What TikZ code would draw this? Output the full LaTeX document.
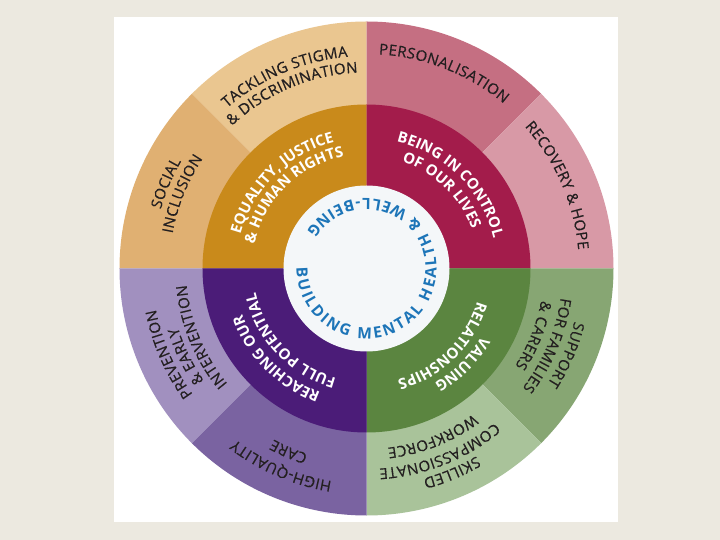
\documentclass[tikz,border=0pt]{standalone}
\usepackage{fontspec}
\setmainfont{Open Sans}
\newfontfamily\ringface[FakeBold=0.5]{Open Sans}
\newfontfamily\coreface{Open Sans}
\newfontfamily\hubface{Open Sans}
\usetikzlibrary{decorations.text}
\definecolor{paper}{HTML}{ECE9E0}
\definecolor{tackle}{HTML}{EAC690}
\definecolor{inclu}{HTML}{E0B072}
\definecolor{equal}{HTML}{C98A1B}
\definecolor{person}{HTML}{C56F82}
\definecolor{recov}{HTML}{D899A6}
\definecolor{control}{HTML}{A31C4B}
\definecolor{famil}{HTML}{87A673}
\definecolor{skill}{HTML}{A9C39A}
\definecolor{valu}{HTML}{5B8540}
\definecolor{prevent}{HTML}{A190BF}
\definecolor{care}{HTML}{7A63A1}
\definecolor{reach}{HTML}{4B1C78}
\definecolor{hub}{HTML}{F4F7F9}
\definecolor{ink}{HTML}{231F20}
\definecolor{hubink}{HTML}{1D75B8}
\newcommand{\ringfont}{\ringface\fontsize{15}{15}\selectfont\kern0.3pt}
\newcommand{\corefont}{\coreface\bfseries\fontsize{15}{15}\selectfont}
\newcommand{\hubfont}{\hubface\bfseries\fontsize{15.5}{15.5}\selectfont\kern2.3pt}

\begin{document}
\begin{tikzpicture}[x=1pt,y=1pt]
	\tikzset{outerlbl/.style={decorate,decoration={text along path,text align=center,text color=ink,text={|\ringfont|#1}}}}
	\tikzset{innerlbl/.style={decorate,decoration={text along path,text align=center,text color=white,text={|\corefont|#1}}}}
	\tikzset{hublbl/.style={decorate,decoration={text along path,text align=center,text color=hubink,text={|\hubfont|#1}}}}
	\useasboundingbox (-366.5,-271.5) rectangle (353.5,268.5);
	\fill[paper] (-366.5,-271.5) rectangle (353.5,268.5);
	\fill[white] (-252.5,-253.5) rectangle (251.5,251.2);
	\foreach \a/\b/\col in {90/135/tackle,135/180/inclu,45/90/person,0/45/recov,-45/0/famil,-90/-45/skill,-135/-90/care,-180/-135/prevent}
		\fill[\col] (0,0) -- (\a:247pt) arc[start angle=\a,end angle=\b,radius=247pt] -- cycle;
	\foreach \a/\col in {90/equal,0/control,-90/valu,180/reach}
		\fill[\col] (0,0) -- (\a:164pt) arc[start angle=\a,delta angle=90,radius=164pt] -- cycle;
	\fill[hub] (0,0) circle[radius=83pt];
	\path[outerlbl={TACKLING STIGMA}] (173.05:212.5pt) arc[start angle=173.05,delta angle=-120,radius=212.5pt];
	\path[outerlbl={{\&} DISCRIMINATION}] (173:196pt) arc[start angle=173,delta angle=-120,radius=196pt];
	\path[outerlbl={SOCIAL}] (217:214pt) arc[start angle=217,delta angle=-120,radius=214pt];
	\path[outerlbl={INCLUSION}] (218:197pt) arc[start angle=218,delta angle=-120,radius=197pt];
	\path[outerlbl={PERSONALISATION}] (128.5:214.5pt) arc[start angle=128.5,delta angle=-120,radius=214.5pt];
	\path[outerlbl={RECOVERY {\&} HOPE}] (83.5:212.5pt) arc[start angle=83.5,delta angle=-120,radius=212.5pt];
	\path[outerlbl={SUPPORT}] (36.65:214.5pt) arc[start angle=36.65,delta angle=-120,radius=214.5pt];
	\path[outerlbl={FOR FAMILIES}] (37:196.5pt) arc[start angle=37,delta angle=-120,radius=196.5pt];
	\path[outerlbl={{\&} CARERS}] (38.25:177.5pt) arc[start angle=38.25,delta angle=-120,radius=177.5pt];
	\path[outerlbl={SKILLED}] (-7.25:217.5pt) arc[start angle=-7.25,delta angle=-120,radius=217.5pt];
	\path[outerlbl={COMPASSIONATE}] (-8.25:200.5pt) arc[start angle=-8.25,delta angle=-120,radius=200.5pt];
	\path[outerlbl={WORKFORCE}] (-8.5:180.5pt) arc[start angle=-8.5,delta angle=-120,radius=180.5pt];
	\path[outerlbl={HIGH-QUALITY}] (-53.3:215.5pt) arc[start angle=-53.3,delta angle=-120,radius=215.5pt];
	\path[outerlbl={CARE}] (-53:194.5pt) arc[start angle=-53,delta angle=-120,radius=194.5pt];
	\path[outerlbl={PREVENTION}] (263.5:214.5pt) arc[start angle=263.5,delta angle=-120,radius=214.5pt];
	\path[outerlbl={{\&} EARLY}] (266:197.5pt) arc[start angle=266,delta angle=-120,radius=197.5pt];
	\path[outerlbl={INTERVENTION}] (262.5:180.5pt) arc[start angle=262.5,delta angle=-120,radius=180.5pt];
	\path[innerlbl={EQUALITY, JUSTICE}] (194.5:130.5pt) arc[start angle=194.5,delta angle=-120,radius=130.5pt];
	\path[innerlbl={{\&} HUMAN RIGHTS}] (194.5:114.5pt) arc[start angle=194.5,delta angle=-120,radius=114.5pt];
	\path[innerlbl={BEING IN CONTROL}] (105:130.5pt) arc[start angle=105,delta angle=-120,radius=130.5pt];
	\path[innerlbl={OF OUR LIVES}] (106:112.5pt) arc[start angle=106,delta angle=-120,radius=112.5pt];
	\path[innerlbl={VALUING}] (15:133.5pt) arc[start angle=15,delta angle=-120,radius=133.5pt];
	\path[innerlbl={RELATIONSHIPS}] (14.5:115.5pt) arc[start angle=14.5,delta angle=-120,radius=115.5pt];
	\path[innerlbl={REACHING OUR}] (285:132.5pt) arc[start angle=285,delta angle=-120,radius=132.5pt];
	\path[innerlbl={FULL POTENTIAL}] (283.5:113.5pt) arc[start angle=283.5,delta angle=-120,radius=113.5pt];
	\path[hublbl={BUILDING MENTAL HEALTH {\&} WELL-BEING}] (168:70pt) arc[start angle=168,delta angle=350,radius=70pt];
\end{tikzpicture}
\end{document}
